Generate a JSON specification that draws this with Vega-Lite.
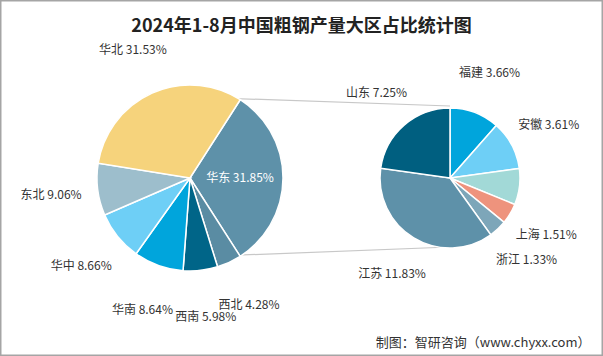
{
  "$schema": "https://vega.github.io/schema/vega-lite/v6.json",
  "width": 603,
  "height": 356,
  "autosize": {"type": "fit", "contains": "padding"},
  "padding": 0,
  "background": "white",
  "config": {
    "view": {"stroke": "#A5A5A5", "strokeWidth": 3},
    "font": "Noto Sans CJK SC"
  },
  "title": {
    "text": "2024年1-8月中国粗钢产量大区占比统计图",
    "font": "Noto Sans CJK SC",
    "fontSize": 18,
    "fontWeight": "bold",
    "color": "#222222",
    "anchor": "middle",
    "offset": -36
  },
  "datasets": {
    "regions": [
      {"seq": 1, "name": "华东", "pct": 31.85, "label": "华东 31.85%"},
      {"seq": 2, "name": "西北", "pct": 4.28, "label": "西北 4.28%"},
      {"seq": 3, "name": "西南", "pct": 5.98, "label": "西南 5.98%"},
      {"seq": 4, "name": "华南", "pct": 8.64, "label": "华南 8.64%"},
      {"seq": 5, "name": "华中", "pct": 8.66, "label": "华中 8.66%"},
      {"seq": 6, "name": "东北", "pct": 9.06, "label": "东北 9.06%"},
      {"seq": 7, "name": "华北", "pct": 31.53, "label": "华北 31.53%"}
    ],
    "east": [
      {"seq": 1, "name": "福建", "pct": 3.66, "label": "福建 3.66%"},
      {"seq": 2, "name": "安徽", "pct": 3.61, "label": "安徽 3.61%"},
      {"seq": 3, "name": "江西", "pct": 2.66, "label": ""},
      {"seq": 4, "name": "上海", "pct": 1.51, "label": "上海 1.51%"},
      {"seq": 5, "name": "浙江", "pct": 1.33, "label": "浙江 1.33%"},
      {"seq": 6, "name": "江苏", "pct": 11.83, "label": "江苏 11.83%"},
      {"seq": 7, "name": "山东", "pct": 7.25, "label": "山东 7.25%"}
    ]
  },
  "resolve": {"scale": {"theta": "independent"}},
  "layer": [
    {
      "data": {"values": [{"link": "top"}]},
      "mark": {"type": "rule", "color": "#C8C8C8", "strokeWidth": 1.2},
      "encoding": {
        "x": {"datum": "全国", "type": "nominal", "scale": {"type": "point", "domain": ["全国", "华东"], "range": [190, 450], "padding": 0}, "axis": {"title": "制图：智研咨询（www.chyxx.com）", "labels": false, "ticks": false, "domain": false, "grid": false, "titleFont": "Noto Sans CJK SC", "titleFontSize": 13, "titleFontWeight": "normal", "titleColor": "#333333", "titleX": 590, "titleY": -10, "titleAlign": "right", "titleBaseline": "alphabetic"}},
        "x2": {"datum": "华东"},
        "y": {"value": 97},
        "y2": {"value": 106}
      }
    },
    {
      "data": {"values": [{"link": "bottom"}]},
      "mark": {"type": "rule", "color": "#C8C8C8", "strokeWidth": 1.2},
      "encoding": {
        "x": {"datum": "全国", "type": "nominal", "scale": {"type": "point", "domain": ["全国", "华东"], "range": [190, 450], "padding": 0}, "axis": {"title": "制图：智研咨询（www.chyxx.com）", "labels": false, "ticks": false, "domain": false, "grid": false, "titleFont": "Noto Sans CJK SC", "titleFontSize": 13, "titleFontWeight": "normal", "titleColor": "#333333", "titleX": 590, "titleY": -10, "titleAlign": "right", "titleBaseline": "alphabetic"}},
        "x2": {"datum": "华东"},
        "y": {"value": 257},
        "y2": {"value": 247}
      }
    },
    {
      "data": {"name": "regions"},
      "encoding": {
        "x": {"datum": "全国", "type": "nominal", "scale": {"type": "point", "domain": ["全国", "华东"], "range": [190, 450], "padding": 0}, "axis": {"title": "制图：智研咨询（www.chyxx.com）", "labels": false, "ticks": false, "domain": false, "grid": false, "titleFont": "Noto Sans CJK SC", "titleFontSize": 13, "titleFontWeight": "normal", "titleColor": "#333333", "titleX": 590, "titleY": -10, "titleAlign": "right", "titleBaseline": "alphabetic"}},
        "theta": {"field": "pct", "type": "quantitative", "stack": true, "scale": {"range": [0.5707, 6.8539]}},
        "order": {"field": "seq", "type": "quantitative"}
      },
      "layer": [
        {
          "mark": {"type": "arc", "radius": 93, "stroke": "white", "strokeWidth": 1.5},
          "encoding": {
            "color": {"field": "name", "type": "nominal", "legend": null, "scale": {"domain": ["华东", "西北", "西南", "华南", "华中", "东北", "华北", "福建", "安徽", "江西", "上海", "浙江", "江苏", "山东"], "range": ["#5E91A9", "#5A8CA3", "#006588", "#00A5DC", "#6ECFF6", "#9DBECC", "#F6D37C", "#00A5DC", "#6ECFF6", "#A2D9D7", "#EE937D", "#7DA6B9", "#5E91A9", "#005F80"]}}
          }
        },
        {
          "mark": {"type": "text", "radius": 140, "fontSize": 12, "color": "#333333", "font": "Noto Sans CJK SC"},
          "encoding": {
            "text": {"condition": {"test": "datum.name === '华东'", "value": ""}, "field": "label"}
          }
        },
        {
          "mark": {"type": "text", "radius": 50, "fontSize": 12, "color": "white", "font": "Noto Sans CJK SC"},
          "encoding": {
            "text": {"condition": {"test": "datum.name !== '华东'", "value": ""}, "field": "label"}
          }
        }
      ]
    },
    {
      "data": {"name": "east"},
      "encoding": {
        "x": {"datum": "华东", "type": "nominal", "scale": {"type": "point", "domain": ["全国", "华东"], "range": [190, 450], "padding": 0}, "axis": {"title": "制图：智研咨询（www.chyxx.com）", "labels": false, "ticks": false, "domain": false, "grid": false, "titleFont": "Noto Sans CJK SC", "titleFontSize": 13, "titleFontWeight": "normal", "titleColor": "#333333", "titleX": 590, "titleY": -10, "titleAlign": "right", "titleBaseline": "alphabetic"}},
        "theta": {"field": "pct", "type": "quantitative", "stack": true, "scale": {"range": [0, 6.2832]}},
        "order": {"field": "seq", "type": "quantitative"}
      },
      "layer": [
        {
          "mark": {"type": "arc", "radius": 70, "stroke": "white", "strokeWidth": 1.5},
          "encoding": {
            "color": {"field": "name", "type": "nominal", "legend": null, "scale": {"domain": ["华东", "西北", "西南", "华南", "华中", "东北", "华北", "福建", "安徽", "江西", "上海", "浙江", "江苏", "山东"], "range": ["#5E91A9", "#5A8CA3", "#006588", "#00A5DC", "#6ECFF6", "#9DBECC", "#F6D37C", "#00A5DC", "#6ECFF6", "#A2D9D7", "#EE937D", "#7DA6B9", "#5E91A9", "#005F80"]}}
          }
        },
        {
          "mark": {"type": "text", "radius": 112, "fontSize": 12, "color": "#333333", "font": "Noto Sans CJK SC"},
          "encoding": {
            "text": {"field": "label"}
          }
        }
      ]
    }
  ]
}
